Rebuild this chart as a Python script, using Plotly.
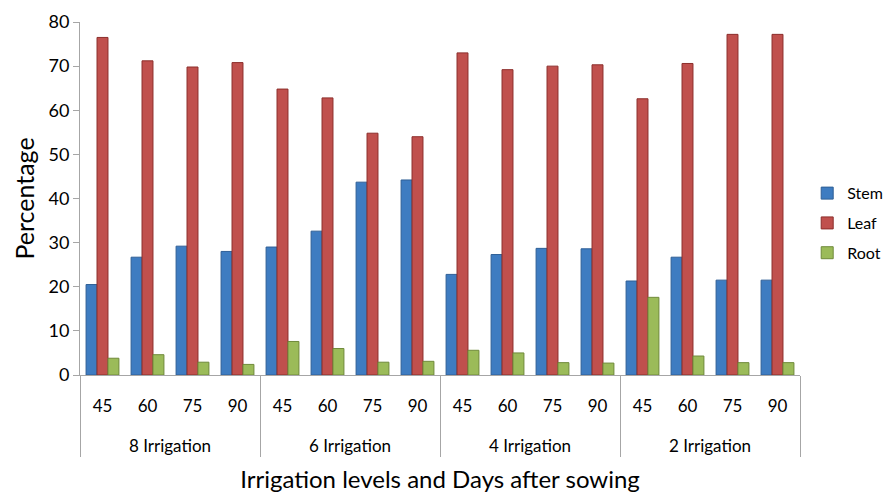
import plotly.graph_objects as go

groups = ["8 Irrigation", "6 Irrigation", "4 Irrigation", "2 Irrigation"]
days = ["45", "60", "75", "90"]

stem = [20.5, 26.7, 29.2, 28.0, 29.0, 32.6, 43.7, 44.2,
        22.8, 27.3, 28.7, 28.6, 21.3, 26.7, 21.5, 21.5]
leaf = [76.5, 71.2, 69.8, 70.8, 64.8, 62.8, 54.8, 54.0,
        73.0, 69.2, 70.0, 70.3, 62.6, 70.6, 77.2, 77.2]
root = [3.8, 4.6, 2.9, 2.4, 7.6, 6.0, 2.9, 3.1,
        5.6, 5.0, 2.8, 2.7, 17.6, 4.3, 2.8, 2.8]

x_outer = [g for g in groups for _ in days]
# trailing blank line widens the gap between the two label rows
x_inner = [d + "<br><span style='font-size:45px'>\u00a0</span>"
           for _ in groups for d in days]

FONT = "Lato"

fig = go.Figure()
for name, vals, col, line in [("Stem", stem, "#3E7CC1", "#2F5F96"),
                              ("Leaf", leaf, "#C0504D", "#8C2E2B"),
                              ("Root", root, "#9BBB59", "#6F8A3A")]:
    fig.add_trace(go.Bar(
        x=[x_outer, x_inner], y=vals, name=name, legendgroup=name,
        marker=dict(color=col, line=dict(color=line, width=1)),
    ))

fig.update_layout(
    width=890, height=492,
    margin=dict(l=80, r=90, t=22, b=117, autoexpand=False),
    paper_bgcolor="white", plot_bgcolor="white",
    barmode="group", bargap=0.27, bargroupgap=0.0,
    font=dict(family=FONT, size=17, color="#000000"),
    legend=dict(x=1.01, y=0.43, xanchor="left", yanchor="middle",
                font=dict(family=FONT, size=16), tracegroupgap=6,
                itemwidth=30),
    xaxis=dict(
        type="multicategory",
        showline=True, linecolor="#A6A6A6", linewidth=1,
        showdividers=True, dividercolor="#A6A6A6", dividerwidth=1,
        tickfont=dict(family=FONT, size=17),
        ticklabelstandoff=16,
        title=dict(text="Irrigation levels and Days after sowing",
                   font=dict(family=FONT, size=24), standoff=15),
        showgrid=False,
    ),
    yaxis=dict(
        range=[0, 80], dtick=10,
        showline=True, linecolor="#A6A6A6", linewidth=1,
        ticks="outside", ticklen=6, tickcolor="#A6A6A6",
        showgrid=False, zeroline=False,
        tickfont=dict(family=FONT, size=18),
        title=dict(text="Percentage", font=dict(family=FONT, size=25), standoff=6),
    ),
)

fig.write_html("out.html")
